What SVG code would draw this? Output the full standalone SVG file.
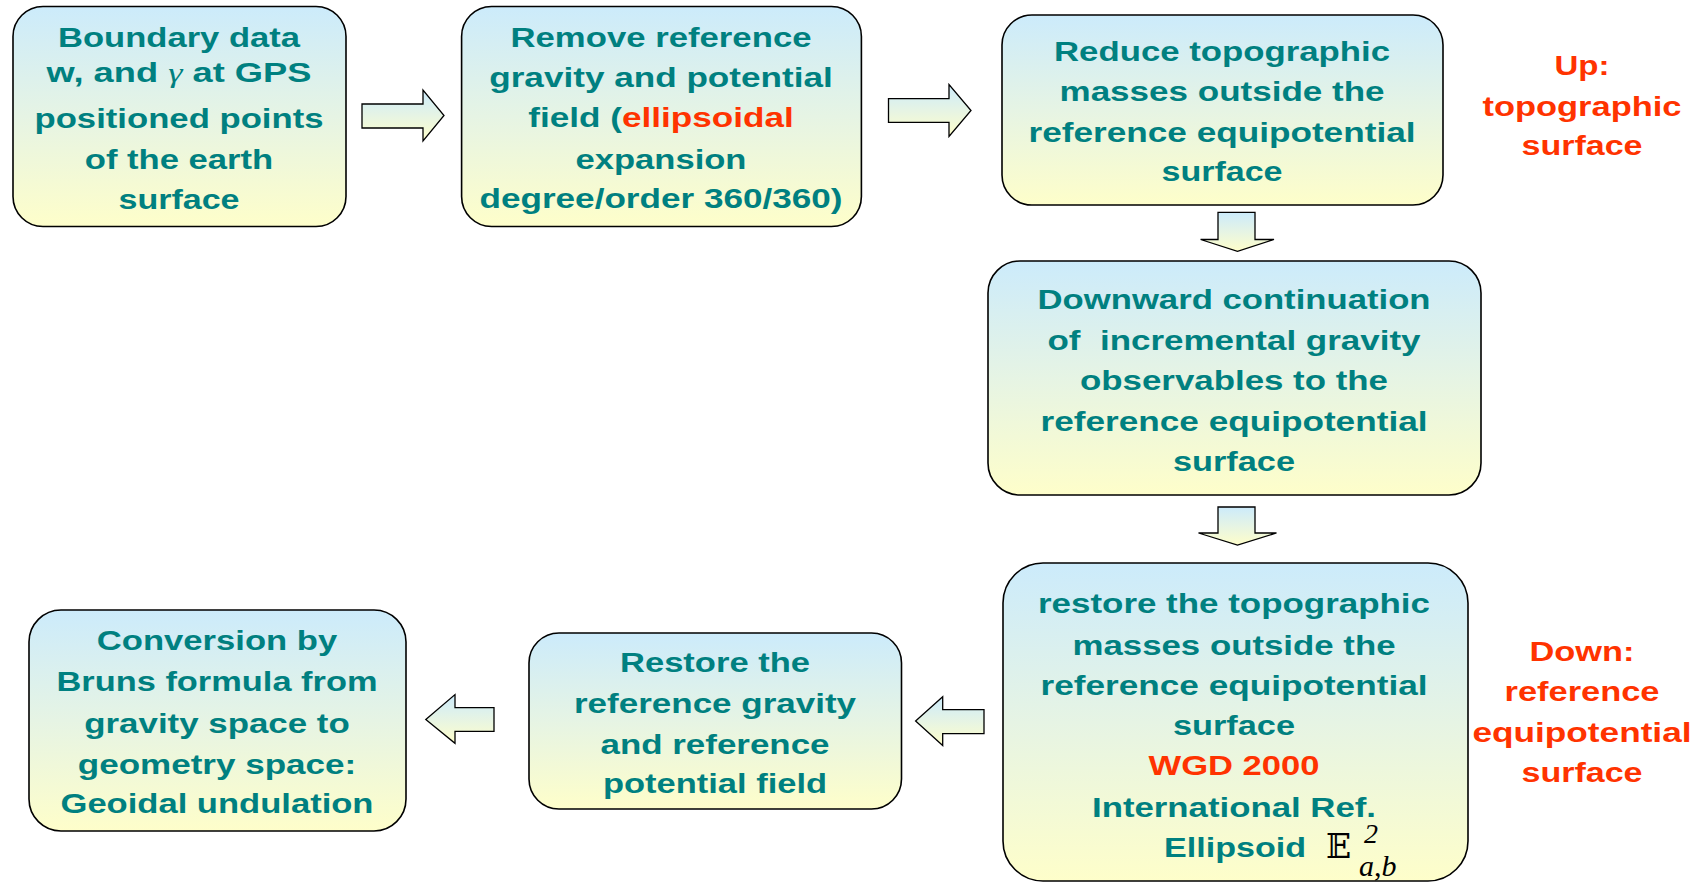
<svg xmlns="http://www.w3.org/2000/svg" width="1699" height="883" viewBox="0 0 1699 883">
<defs>
<linearGradient id="g" x1="0" y1="0" x2="0" y2="1">
<stop offset="0" stop-color="#CCEBFB"/>
<stop offset="0.5" stop-color="#E6F4E4"/>
<stop offset="1" stop-color="#FEFECA"/>
</linearGradient>
<style>
.box{fill:url(#g);stroke:#000;stroke-width:1.6}
.arr{fill:url(#g);stroke:#000;stroke-width:1.3}
.t{font-family:"Liberation Sans Narrow","Arial Narrow","Liberation Sans",sans-serif;font-weight:bold;font-size:27px;fill:#008080;text-anchor:middle;white-space:pre}
.r{fill:#FF3300}
.m{font-family:"Liberation Serif",serif;font-style:italic;fill:#000}
</style>
</defs>
<rect width="1699" height="883" fill="#fff"/>
<g id="connectors">
<path class="arr" d="M362,104 H423 V90 L444,115.5 L423,141 V128 H362 Z"/>
<path class="arr" d="M888.5,98.6 H949 V84.5 L971,110.5 L949,136.5 V122.4 H888.5 Z"/>
<path class="arr" d="M1218,212.4 H1255 V239.5 H1274 L1237.5,251.4 L1200.6,239.5 H1218 Z"/>
<path class="arr" d="M1218,507 H1255 V533 H1276.5 L1237.5,545 L1198.5,533 H1218 Z"/>
<path class="arr" d="M984,709.7 H942.7 V696.7 L915.6,721 L942.7,745.5 V733.6 H984 Z"/>
<path class="arr" d="M494,707.6 H455 V694.6 L425.8,719.5 L455,743.3 V731.4 H494 Z"/>
</g>
<g id="node1">
<rect class="box" x="13" y="6.5" width="333" height="220" rx="30"/>
<text class="t" x="179" y="46.6" textLength="242" lengthAdjust="spacingAndGlyphs">Boundary data</text>
<text class="t" x="179" y="82.4" textLength="265" lengthAdjust="spacingAndGlyphs">w, and <tspan style="font-family:'Liberation Serif',serif;font-style:italic;font-weight:normal">γ</tspan> at GPS</text>
<text class="t" x="179" y="127.9" textLength="289" lengthAdjust="spacingAndGlyphs">positioned points</text>
<text class="t" x="179" y="169" textLength="188.5" lengthAdjust="spacingAndGlyphs">of the earth</text>
<text class="t" x="179" y="209" textLength="121" lengthAdjust="spacingAndGlyphs">surface</text>
</g>
<g id="node2">
<rect class="box" x="461.6" y="6.5" width="399.8" height="220" rx="30"/>
<text class="t" x="661" y="46.6" textLength="301" lengthAdjust="spacingAndGlyphs">Remove reference</text>
<text class="t" x="661" y="86.7" textLength="343.5" lengthAdjust="spacingAndGlyphs">gravity and potential</text>
<text class="t" x="661" y="126.8" textLength="265.5" lengthAdjust="spacingAndGlyphs">field (<tspan class="r">ellipsoidal</tspan></text>
<text class="t" x="661" y="169" textLength="171" lengthAdjust="spacingAndGlyphs">expansion</text>
<text class="t" x="661" y="208" textLength="363" lengthAdjust="spacingAndGlyphs">degree/order 360/360)</text>
</g>
<g id="node3">
<rect class="box" x="1002" y="15" width="441" height="190" rx="30"/>
<text class="t" x="1222" y="60.7" textLength="336" lengthAdjust="spacingAndGlyphs">Reduce topographic</text>
<text class="t" x="1222" y="100.8" textLength="325" lengthAdjust="spacingAndGlyphs">masses outside the</text>
<text class="t" x="1222" y="142" textLength="387" lengthAdjust="spacingAndGlyphs">reference equipotential</text>
<text class="t" x="1222" y="181" textLength="121" lengthAdjust="spacingAndGlyphs">surface</text>
</g>
<g id="label-up">
<text class="t r" x="1582" y="74.8" textLength="55" lengthAdjust="spacingAndGlyphs">Up:</text>
<text class="t r" x="1582" y="116" textLength="199" lengthAdjust="spacingAndGlyphs">topographic</text>
<text class="t r" x="1582" y="155" textLength="121" lengthAdjust="spacingAndGlyphs">surface</text>
</g>
<g id="node4">
<rect class="box" x="988" y="261" width="493" height="234" rx="32"/>
<text class="t" x="1234" y="308.8" textLength="393" lengthAdjust="spacingAndGlyphs">Downward continuation</text>
<text class="t" x="1234" y="350" textLength="373" lengthAdjust="spacingAndGlyphs">of  incremental gravity</text>
<text class="t" x="1234" y="390" textLength="308" lengthAdjust="spacingAndGlyphs">observables to the</text>
<text class="t" x="1234" y="431" textLength="387" lengthAdjust="spacingAndGlyphs">reference equipotential</text>
<text class="t" x="1234" y="471" textLength="122" lengthAdjust="spacingAndGlyphs">surface</text>
</g>
<g id="node5">
<rect class="box" x="1003" y="563" width="465" height="318" rx="40"/>
<text class="t" x="1234" y="613" textLength="392" lengthAdjust="spacingAndGlyphs">restore the topographic</text>
<text class="t" x="1234" y="654.5" textLength="323" lengthAdjust="spacingAndGlyphs">masses outside the</text>
<text class="t" x="1234" y="694.6" textLength="387" lengthAdjust="spacingAndGlyphs">reference equipotential</text>
<text class="t" x="1234" y="734.7" textLength="122" lengthAdjust="spacingAndGlyphs">surface</text>
<text class="t r" x="1234" y="774.8" textLength="171" lengthAdjust="spacingAndGlyphs">WGD 2000</text>
<text class="t" x="1234" y="817" textLength="284" lengthAdjust="spacingAndGlyphs">International Ref.</text>
<text class="t" x="1235" y="857" textLength="142" lengthAdjust="spacingAndGlyphs">Ellipsoid</text>
<text x="1326" y="858" style="font-family:'DejaVu Serif','DejaVu Sans',serif;font-size:33px;fill:#000">𝔼</text>
<text class="m" x="1364" y="843" font-size="28">2</text>
<text class="m" x="1359" y="876" font-size="30">a<tspan font-style="normal">,</tspan>b</text>
</g>
<g id="label-down">
<text class="t r" x="1582" y="661" textLength="105" lengthAdjust="spacingAndGlyphs">Down:</text>
<text class="t r" x="1582" y="701" textLength="155" lengthAdjust="spacingAndGlyphs">reference</text>
<text class="t r" x="1582" y="742" textLength="219" lengthAdjust="spacingAndGlyphs">equipotential</text>
<text class="t r" x="1582" y="782" textLength="121" lengthAdjust="spacingAndGlyphs">surface</text>
</g>
<g id="node6">
<rect class="box" x="529" y="633" width="372.5" height="176" rx="30"/>
<text class="t" x="715" y="672" textLength="190" lengthAdjust="spacingAndGlyphs">Restore the</text>
<text class="t" x="715" y="713" textLength="282" lengthAdjust="spacingAndGlyphs">reference gravity</text>
<text class="t" x="715" y="754" textLength="229" lengthAdjust="spacingAndGlyphs">and reference</text>
<text class="t" x="715" y="793" textLength="224" lengthAdjust="spacingAndGlyphs">potential field</text>
</g>
<g id="node7">
<rect class="box" x="29" y="610" width="377" height="221" rx="32"/>
<text class="t" x="217" y="650" textLength="240.5" lengthAdjust="spacingAndGlyphs">Conversion by</text>
<text class="t" x="217" y="691" textLength="321" lengthAdjust="spacingAndGlyphs">Bruns formula from</text>
<text class="t" x="217" y="732.5" textLength="265.5" lengthAdjust="spacingAndGlyphs">gravity space to</text>
<text class="t" x="217" y="773.7" textLength="278.5" lengthAdjust="spacingAndGlyphs">geometry space:</text>
<text class="t" x="217" y="812.7" textLength="313" lengthAdjust="spacingAndGlyphs">Geoidal undulation</text>
</g>
</svg>
